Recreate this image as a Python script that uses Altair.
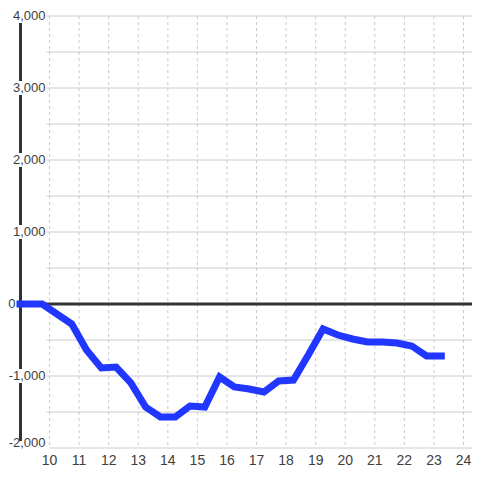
import altair as alt
import pandas as pd

# series (hour of day, value)
hours = [9.0, 9.75, 10.75, 11.25, 11.75, 12.25, 12.75, 13.25, 13.75, 14.25,
         14.75, 15.25, 15.75, 16.25, 16.75, 17.25, 17.75, 18.25, 18.75, 19.25,
         19.75, 20.25, 20.75, 21.25, 21.75, 22.25, 22.75, 23.25]
values = [0, 0, -278, -639, -889, -875, -1097, -1431, -1569, -1569,
          -1417, -1431, -1014, -1153, -1181, -1222, -1069, -1056, -708, -347,
          -431, -486, -528, -528, -542, -583, -722, -722]

y_ticks = [4000, 3000, 2000, 1000, 0, -1000, -2000]
y_grid = [4000, 3500, 3000, 2500, 2000, 1500, 1000, 500, -500, -1000, -1500]
x_ticks = list(range(10, 25))

W, H = 452, 432
FONT = "Liberation Sans"
TXT = "#404040"

X = alt.Scale(domain=[9, 24.288], nice=False, zero=False)
Y = alt.Scale(domain=[-2000, 4000], nice=False, zero=False)

line_df = pd.DataFrame({"h": hours, "v": values})
ytick_df = pd.DataFrame({"v": y_ticks, "lab": [f"{t:,}" for t in y_ticks]})
ygrid_df = pd.DataFrame({"v": y_grid})
xtick_df = pd.DataFrame({"h": x_ticks, "lab": [str(t) for t in x_ticks]})
one = pd.DataFrame({"v": [0]})
bottom = pd.DataFrame({"v": [-2000]})

hgrid = alt.Chart(ygrid_df).mark_rule(color="#cccccc", strokeWidth=1).encode(
    y=alt.Y("v:Q", scale=Y, axis=None), x=alt.value(26.5), x2=alt.value(W))
hbottom = alt.Chart(bottom).mark_rule(color="#cccccc", strokeWidth=1).encode(
    y=alt.Y("v:Q", scale=Y, axis=None), x=alt.value(29.5), x2=alt.value(W))
vgrid = alt.Chart(xtick_df).mark_rule(color="#cccccc", strokeWidth=1, strokeDash=[3, 3]).encode(
    x=alt.X("h:Q", scale=X, axis=None), y=alt.value(0), y2=alt.value(H))
zero = alt.Chart(one).mark_rule(color="#333333", strokeWidth=3).encode(
    y=alt.Y("v:Q", scale=Y, axis=None), x=alt.value(0), x2=alt.value(W))
yaxis = alt.Chart(one).mark_rule(color="#333333", strokeWidth=3).encode(
    x=alt.value(0.5), y=alt.value(0), y2=alt.value(H))
boxes = alt.Chart(ytick_df).transform_filter("datum.v != 0").mark_point(
    shape="square", filled=True, color="white", opacity=1, size=196).encode(
    y=alt.Y("v:Q", scale=Y, axis=None), x=alt.value(1))
ylabels = alt.Chart(ytick_df).transform_filter("datum.v > -2000 && datum.v != 0").mark_text(
    align="right", baseline="middle", font=FONT, fontSize=13, color=TXT).encode(
    y=alt.Y("v:Q", scale=Y, axis=None), x=alt.value(25.5), text="lab:N")
ylabel_zero = alt.Chart(ytick_df).transform_filter("datum.v == 0").mark_text(
    align="right", baseline="middle", font=FONT, fontSize=13, color=TXT).encode(
    y=alt.Y("v:Q", scale=Y, axis=None), x=alt.value(-4.5), text="lab:N")
ylabel_bottom = alt.Chart(ytick_df).transform_filter("datum.v == -2000").mark_text(
    align="right", baseline="alphabetic", dy=-1, font=FONT, fontSize=13, color=TXT).encode(
    y=alt.Y("v:Q", scale=Y, axis=None), x=alt.value(25.5), text="lab:N")
xlabels = alt.Chart(xtick_df).mark_text(
    align="center", baseline="middle", font=FONT, fontSize=14, color=TXT).encode(
    x=alt.X("h:Q", scale=X, axis=None), y=alt.value(H + 13), text="lab:N")
series = alt.Chart(line_df).mark_line(color="#2137ff", strokeWidth=7, strokeCap="square").encode(
    x=alt.X("h:Q", scale=X, axis=None), y=alt.Y("v:Q", scale=Y, axis=None))

chart = alt.layer(hgrid, hbottom, vgrid, zero, yaxis, boxes, series, ylabels,
                  ylabel_zero, ylabel_bottom, xlabels).properties(
    width=W, height=H,
    autosize=alt.AutoSizeParams(type="none"),
    padding={"left": 12, "top": 8, "right": 0, "bottom": 22},
).configure_view(stroke=None)

chart.save("out.html", embed_options={"renderer": "svg", "actions": False})
